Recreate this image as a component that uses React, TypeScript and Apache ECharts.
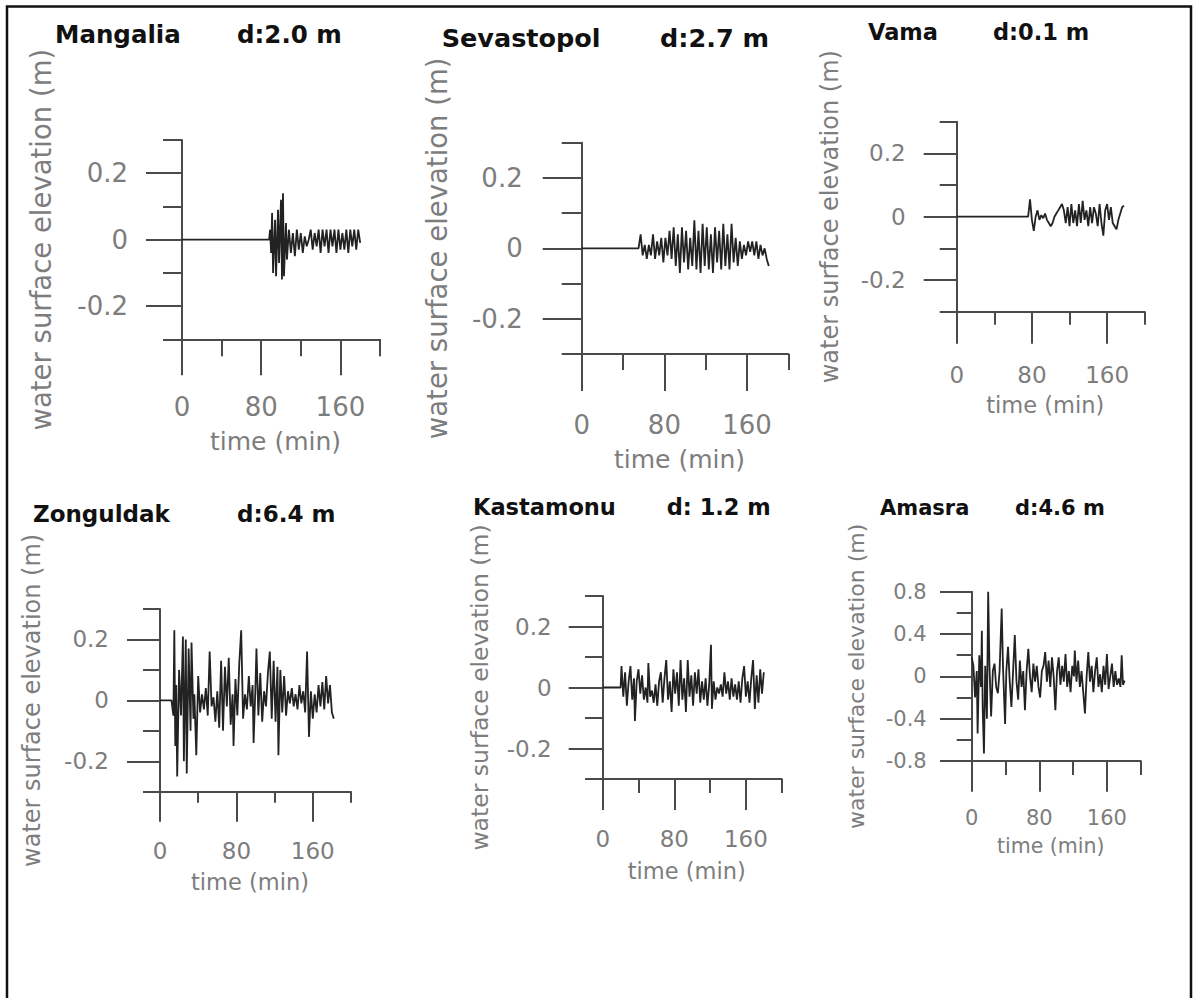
import React, { useEffect, useRef } from "react";
import * as echarts from "echarts";

// ---- tick values ----
const timeTicks = [0, 80, 160];
const timeMinorTicks = [40, 120, 200];
const elevTicks = [-0.2, 0, 0.2];
const elevMinorTicks = [-0.3, -0.1, 0.1, 0.3];
const amasraTicks = [-0.8, -0.4, 0, 0.4, 0.8];
const amasraMinorTicks = [-0.6, -0.2, 0.2, 0.6];

// ---- station titles ----
const stations = ["Mangalia", "Sevastopol", "Vama", "Zonguldak", "Kastamonu", "Amasra"];
const depths = ["d:2.0 m", "d:2.7 m", "d:0.1 m", "d:6.4 m", "d: 1.2 m", "d:4.6 m"];

// ---- time series [time (min), elevation (m)] ----
const mangalia = [
  [0, 0], [88, 0], [89, 0.03], [90, -0.04], [91, 0.08], [92, -0.1], [94, 0.06], [95, -0.11], [97, 0.09],
  [98, -0.07], [100, 0.12], [101, -0.12], [102, 0.14], [103, -0.11], [105, 0.05], [106, -0.06], [108, 0.03],
  [110, -0.04], [112, 0.02], [114, -0.05], [116, 0.03], [118, -0.03], [120, 0.02], [122, -0.04], [124, 0.01],
  [126, -0.02], [128, 0], [130, 0.03], [132, -0.03], [134, 0.02], [136, -0.02], [138, 0.03], [140, -0.04],
  [142, 0.03], [144, -0.02], [146, 0.03], [148, -0.04], [150, 0.03], [152, -0.02], [154, 0.03], [156, -0.04],
  [158, 0.03], [160, -0.03], [162, 0.02], [164, -0.03], [166, 0.03], [168, -0.04], [170, 0.03], [172, -0.02],
  [174, 0.03], [176, -0.03], [178, 0.03], [180, -0.01],
];

const sevastopol = [
  [0, 0], [55, 0], [57, 0.04], [59, -0.02], [61, 0.01], [63, -0.03], [65, 0.01], [67, -0.02], [69, 0.04],
  [71, -0.03], [73, 0.02], [75, -0.02], [77, 0.03], [79, -0.04], [81, 0.03], [83, -0.02], [85, 0.05],
  [87, -0.03], [89, 0.06], [91, -0.05], [93, 0.04], [95, -0.07], [97, 0.06], [99, -0.04], [101, 0.05],
  [103, -0.06], [105, 0.03], [107, -0.05], [109, 0.08], [111, -0.06], [113, 0.05], [115, -0.07], [117, 0.07],
  [119, -0.05], [121, 0.06], [123, -0.06], [125, 0.04], [127, -0.07], [129, 0.06], [131, -0.04], [133, 0.05],
  [135, -0.06], [137, 0.07], [139, -0.05], [141, 0.04], [143, -0.06], [145, 0.07], [147, -0.04], [149, 0.03],
  [151, -0.05], [153, 0.02], [155, -0.03], [157, 0.01], [159, -0.02], [161, 0.02], [163, -0.01], [165, 0.02],
  [167, -0.02], [169, 0.02], [171, -0.03], [173, 0.01], [175, -0.02], [177, 0], [179, -0.03], [181, -0.05],
];

const vama = [
  [0, 0], [76, 0], [78, 0.055], [80, -0.01], [82, -0.045], [84, 0], [86, 0.02], [88, -0.01], [90, 0.005],
  [92, -0.005], [94, 0.01], [96, -0.01], [98, -0.02], [100, -0.03], [102, -0.02], [104, 0], [106, 0.01],
  [108, 0.02], [110, 0.03], [112, 0.04], [114, 0.02], [116, -0.02], [118, 0.03], [120, -0.03], [122, 0.04],
  [124, -0.02], [126, 0.02], [128, -0.03], [130, 0.04], [132, -0.02], [134, 0.05], [136, -0.01], [138, 0.02],
  [140, -0.03], [142, 0.03], [144, -0.02], [146, 0.03], [148, 0.01], [150, -0.03], [152, 0.04], [154, -0.02],
  [156, -0.06], [158, 0.02], [160, 0.04], [162, -0.01], [164, 0.03], [166, -0.02], [168, -0.03], [170, -0.04],
  [172, -0.01], [174, 0.01], [176, 0.03], [178, 0.035],
];

const zonguldak = [
  [0, 0], [12, 0], [14, -0.05], [15, 0.23], [16, -0.15], [17, 0.05], [18, -0.25], [20, 0.1], [22, -0.05],
  [24, 0.21], [25, -0.2], [27, 0.2], [28, -0.24], [30, 0.17], [32, -0.1], [33, 0.19], [35, -0.06], [36, 0.02],
  [38, -0.18], [40, 0.08], [42, -0.04], [44, 0.02], [46, -0.03], [48, 0.04], [50, -0.05], [52, 0.16],
  [54, -0.02], [56, 0.01], [58, -0.07], [60, 0.03], [62, -0.09], [64, 0.13], [66, -0.1], [68, 0.11],
  [70, -0.02], [72, 0.14], [74, -0.08], [76, 0.02], [77, -0.15], [79, 0.07], [81, -0.05], [83, 0.12],
  [85, 0.23], [87, -0.06], [89, 0.02], [91, -0.03], [93, 0.08], [95, -0.02], [97, 0.05], [98, -0.14],
  [100, 0.05], [101, 0.17], [103, -0.05], [105, 0.09], [107, -0.07], [109, 0.03], [111, -0.02], [113, 0.09],
  [115, 0.16], [117, -0.06], [119, 0.13], [121, -0.07], [123, 0.11], [124, -0.18], [126, 0.1], [128, -0.04],
  [130, 0.08], [132, -0.05], [134, 0.03], [136, -0.01], [138, 0.04], [140, -0.02], [142, 0.02], [144, -0.03],
  [146, 0.05], [148, -0.01], [150, 0.03], [152, -0.04], [154, 0.16], [156, -0.12], [158, 0.03], [160, -0.06],
  [162, 0.02], [164, -0.04], [166, 0.05], [168, -0.02], [170, 0.06], [172, -0.03], [174, 0.08], [176, -0.01],
  [178, 0.05], [180, -0.04], [182, -0.06],
];

const kastamonu = [
  [0, 0], [20, 0], [21, 0.07], [23, -0.03], [25, 0.05], [27, -0.06], [29, 0.02], [31, 0.07], [33, -0.04],
  [35, 0.03], [36, -0.11], [38, 0.02], [40, 0.06], [42, -0.02], [44, 0.04], [46, -0.04], [48, 0], [50, -0.05],
  [51, 0.08], [53, -0.03], [55, -0.01], [57, -0.05], [59, 0.01], [61, -0.06], [63, 0.02], [65, 0.05],
  [67, -0.05], [69, 0.03], [71, 0.09], [73, -0.04], [75, 0.02], [77, -0.08], [79, 0.06], [81, -0.02],
  [83, 0.05], [85, -0.06], [87, 0.09], [89, -0.04], [91, 0.03], [93, -0.08], [95, 0.09], [97, -0.03],
  [99, 0.04], [101, -0.06], [103, 0.05], [105, -0.02], [107, 0.06], [109, -0.05], [111, 0.02], [113, -0.04],
  [115, 0.03], [117, -0.06], [119, 0.01], [121, 0.14], [122, -0.07], [124, 0.02], [126, -0.04], [128, 0],
  [130, -0.02], [132, 0.01], [134, -0.03], [136, 0.05], [138, -0.02], [140, 0.02], [142, -0.04], [144, 0.03],
  [146, -0.03], [148, 0.01], [150, -0.04], [152, 0.02], [154, -0.05], [156, 0.03], [158, 0.07], [160, -0.03],
  [162, 0.02], [164, -0.05], [166, 0.03], [168, 0.09], [170, -0.07], [172, 0.04], [174, -0.05], [176, 0.06],
  [178, -0.02], [180, 0.05],
];

const amasra = [
  [0, 0.18], [2, 0.1], [4, -0.2], [6, 0.05], [7, -0.54], [9, 0.2], [11, -0.1], [12, 0.43], [13, -0.3],
  [14.5, -0.73], [16, 0.1], [18, -0.4], [19.5, 0.8], [21, 0.1], [23, -0.38], [25, 0.05], [27, 0.12],
  [29, -0.1], [31, -0.16], [33, 0.05], [35.5, 0.64], [37, 0.1], [39.5, -0.45], [41, 0.05], [43, 0.28],
  [45, -0.05], [47, -0.29], [49, 0.05], [51, 0.39], [53, -0.05], [55, -0.22], [57, 0.15], [59, -0.1],
  [61, 0.05], [63, -0.32], [65, 0.05], [67, 0.26], [69, 0], [71, -0.15], [73, 0.12], [75, -0.05], [77, 0.1],
  [79, -0.1], [81, -0.2], [83, 0.05], [85, 0.1], [87, 0.23], [89, -0.05], [91, 0.15], [93, -0.1], [95, 0.18],
  [97, 0], [99, -0.32], [101, 0.05], [103, 0.18], [105, -0.08], [107, 0.1], [109, -0.05], [111, 0.21],
  [113, -0.1], [115, 0.05], [117, -0.15], [119, 0.1], [121, 0], [122, 0.245], [124, -0.05], [126, 0.15],
  [128, -0.1], [130, 0.05], [132, -0.15], [134, -0.35], [136, 0], [138, 0.23], [140, -0.05], [142, 0.1],
  [144, -0.15], [146, 0.05], [148, 0.18], [150, -0.1], [152, 0.02], [154, -0.15], [156, 0.1], [158, -0.08],
  [160, 0.21], [162, -0.12], [164, 0], [166, 0.12], [168, -0.1], [170, 0.05], [172, -0.08], [174, -0.02],
  [176, -0.1], [177.5, 0.2], [179, -0.08], [181, -0.04],
];

const seriesData = [mangalia, sevastopol, vama, zonguldak, kastamonu, amasra];

// ---- layout (pixels) ----
const panels = [
  { left: 182, top: 140, width: 198, height: 199.3, yMax: 0.3, tickFont: 26, nameFont: 25, yNameFont: 27.5, yMajor: 36, yMinor: 19, xMajor: 36, xMinor: 17, yLabelMargin: 54, xLabelMargin: 55, yNameGap: 127, xNameGap: 90, titleLeft: 55, dLeft: 237, titleTop: 22, titleFont: 24.5 },
  { left: 581.7, top: 142.7, width: 206.7, height: 211.3, yMax: 0.3, tickFont: 26, nameFont: 25, yNameFont: 27.5, yMajor: 39, yMinor: 20, xMajor: 37, xMinor: 16, yLabelMargin: 59, xLabelMargin: 58, yNameGap: 131, xNameGap: 93, titleLeft: 441.7, dLeft: 660, titleTop: 25, titleFont: 25.5 },
  { left: 956.7, top: 121.7, width: 188, height: 190, yMax: 0.3, tickFont: 23, nameFont: 22.5, yNameFont: 24, yMajor: 33, yMinor: 17, xMajor: 32, xMinor: 13, yLabelMargin: 51, xLabelMargin: 52, yNameGap: 115, xNameGap: 82, titleLeft: 868, dLeft: 993, titleTop: 20, titleFont: 22.5 },
  { left: 160, top: 609, width: 191, height: 182.7, yMax: 0.3, tickFont: 23, nameFont: 22.5, yNameFont: 24, yMajor: 33, yMinor: 17, xMajor: 30, xMinor: 11, yLabelMargin: 51, xLabelMargin: 48, yNameGap: 116, xNameGap: 79, titleLeft: 33, dLeft: 237, titleTop: 502, titleFont: 23 },
  { left: 602.7, top: 596, width: 179, height: 183, yMax: 0.3, tickFont: 23, nameFont: 22.5, yNameFont: 23.5, yMajor: 34, yMinor: 17.7, xMajor: 31, xMinor: 14, yLabelMargin: 51, xLabelMargin: 48, yNameGap: 111, xNameGap: 80, titleLeft: 473, dLeft: 666.7, titleTop: 495, titleFont: 22.5 },
  { left: 971.7, top: 591.7, width: 169, height: 169.3, yMax: 0.8, tickFont: 21, nameFont: 20.5, yNameFont: 22, yMajor: 31.7, yMinor: 15, xMajor: 30.7, xMinor: 14, yLabelMargin: 45, xLabelMargin: 46, yNameGap: 104, xNameGap: 74, titleLeft: 880, dLeft: 1015, titleTop: 497, titleFont: 21 },
];

const FONT = "DejaVu Sans";
const AXIS_COLOR = "#4a4a4a";
const LABEL_COLOR = "#7d7d7d";

function buildOption() {
  const grid: any[] = [];
  const xAxis: any[] = [];
  const yAxis: any[] = [];
  const series: any[] = [];
  const title: any[] = [];

  panels.forEach((p, i) => {
    const isAmasra = p.yMax > 0.5;
    const majorY = isAmasra ? amasraTicks : elevTicks;
    const minorY = isAmasra ? amasraMinorTicks : elevMinorTicks;
    grid.push({ left: p.left, top: p.top, width: p.width, height: p.height, containLabel: false, outerBoundsMode: "none" });

    const lineStyle = { color: AXIS_COLOR, width: 2 };
    xAxis.push({
      type: "value", gridIndex: i, min: 0, max: 200, position: "bottom",
      axisLine: { show: true, onZero: false, lineStyle },
      axisTick: { show: true, inside: false, length: p.xMajor, customValues: timeTicks, lineStyle },
      axisLabel: { show: true, customValues: timeTicks, margin: p.xLabelMargin, color: LABEL_COLOR, fontFamily: FONT, fontSize: p.tickFont },
      splitLine: { show: false },
      name: "time (min)", nameLocation: "middle", nameGap: p.xNameGap,
      nameTextStyle: { color: LABEL_COLOR, fontFamily: FONT, fontSize: p.nameFont, padding: [0, 11, 0, 0] },
    });
    xAxis.push({
      type: "value", gridIndex: i, min: 0, max: 200, position: "bottom",
      axisLine: { show: false, onZero: false },
      axisTick: { show: true, inside: false, length: p.xMinor, customValues: timeMinorTicks, lineStyle },
      axisLabel: { show: false },
      splitLine: { show: false },
    });
    yAxis.push({
      type: "value", gridIndex: i, min: -p.yMax, max: p.yMax, position: "left",
      axisLine: { show: true, onZero: false, lineStyle },
      axisTick: { show: true, inside: false, length: p.yMajor, customValues: majorY, lineStyle },
      axisLabel: {
        show: true, customValues: majorY, margin: p.yLabelMargin, color: LABEL_COLOR, fontFamily: FONT, fontSize: p.tickFont,
        formatter: (v: number) => (Math.abs(v) < 1e-9 ? "0" : v.toFixed(1)),
      },
      splitLine: { show: false },
      name: "water surface elevation (m)", nameLocation: "middle", nameGap: p.yNameGap,
      nameTextStyle: { color: LABEL_COLOR, fontFamily: FONT, fontSize: p.yNameFont },
    });
    yAxis.push({
      type: "value", gridIndex: i, min: -p.yMax, max: p.yMax, position: "left",
      axisLine: { show: false, onZero: false },
      axisTick: { show: true, inside: false, length: p.yMinor, customValues: minorY, lineStyle },
      axisLabel: { show: false },
      splitLine: { show: false },
    });

    series.push({
      type: "line", xAxisIndex: 2 * i, yAxisIndex: 2 * i, data: seriesData[i],
      showSymbol: false, symbol: "none", clip: false, silent: true,
      lineStyle: { color: "#222", width: 1.8 },
    });

    const ts = { color: "#111", fontFamily: FONT, fontWeight: "bold", fontSize: p.titleFont };
    title.push({ text: stations[i], left: p.titleLeft, top: p.titleTop, padding: 0, textStyle: ts });
    title.push({ text: depths[i], left: p.dLeft, top: p.titleTop, padding: 0, textStyle: ts });
  });

  return {
    animation: false,
    backgroundColor: "#fff",
    title,
    grid,
    xAxis,
    yAxis,
    series,
    graphic: [
      {
        type: "rect", silent: true, z: 100,
        shape: { x: 7, y: 6.5, width: 1184, height: 1010 },
        style: { fill: "none", stroke: "#111", lineWidth: 2.5 },
      },
    ],
  };
}

export default function App() {
  const ref = useRef<HTMLDivElement>(null);
  useEffect(() => {
    if (!ref.current) return;
    const chart = echarts.init(ref.current, null, { renderer: "svg" });
    chart.setOption(buildOption() as any);
    return () => chart.dispose();
  }, []);
  return (
    <div
      ref={ref}
      style={{ position: "fixed", left: 0, top: 0, width: 1196, height: 998, background: "#fff" }}
    />
  );
}
